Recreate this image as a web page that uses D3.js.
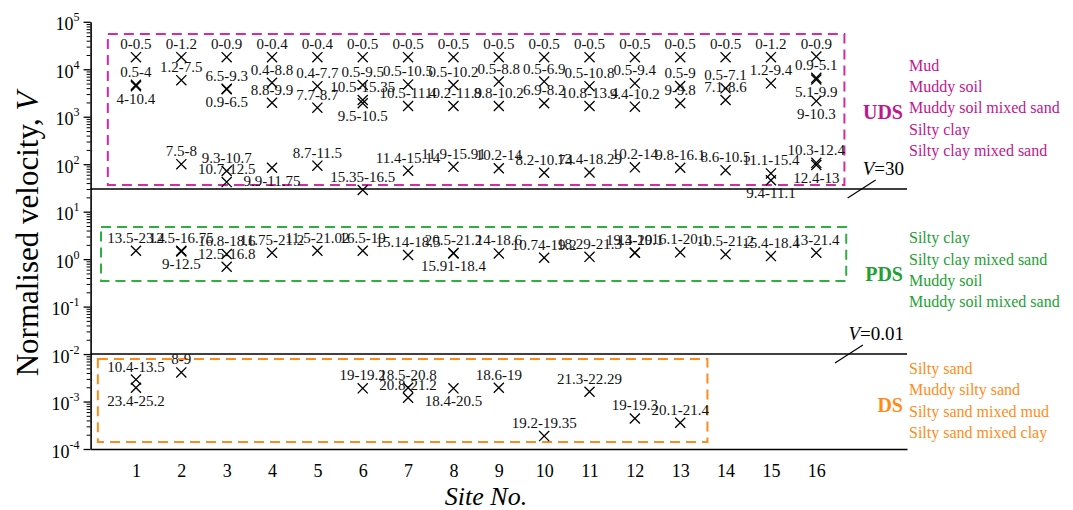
<!DOCTYPE html>
<html>
<head>
<meta charset="utf-8">
<script src="https://d3js.org/d3.v7.min.js"></script>
<style>
  body { margin: 0; background: #fff; }
  svg { font-family: "Liberation Serif", "Times New Roman", serif; }
</style>
</head>
<body>
<svg id="chart" width="1073" height="510"></svg>
<script>
const sites = d3.range(1, 17);
const yTicks = [1e-4, 1e-3, 1e-2, 1e-1, 1, 10, 100, 1e3, 1e4, 1e5];

// [site, normalised velocity V, depth range (m)]
const udsPoints = [
  [1, 1.8e4, '0-0.5'], [1, 4.7e3, '0.5-4'], [1, 4.4e3, '4-10.4'],
  [2, 1.8e4, '0-1.2'], [2, 5.9e3, '1.2-7.5'], [2, 100, '7.5-8'],
  [3, 1.8e4, '0-0.9'], [3, 3.9e3, '6.5-9.3'], [3, 3.8e3, '0.9-6.5'], [3, 72, '9.3-10.7'], [3, 42, '10.7-12.5'],
  [4, 1.8e4, '0-0.4'], [4, 5.2e3, '0.4-8.8'], [4, 1.97e3, '8.8-9.9'], [4, 84, '9.9-11.75'],
  [5, 1.8e4, '0-0.4'], [5, 4.4e3, '0.4-7.7'], [5, 1.55e3, '7.7-8.7'], [5, 93, '8.7-11.5'],
  [6, 1.8e4, '0-0.5'], [6, 4.66e3, '0.5-9.5'], [6, 2.25e3, '10.5-15.35'], [6, 1.92e3, '9.5-10.5'], [6, 28.6, '15.35-16.5'],
  [7, 1.8e4, '0-0.5'], [7, 4.8e3, '0.5-10.5'], [7, 1.68e3, '10.5-11.4'], [7, 73, '11.4-15.14'],
  [8, 1.8e4, '0-0.5'], [8, 4.66e3, '0.5-10.2'], [8, 1.68e3, '10.2-11.9'], [8, 88, '11.9-15.91'],
  [9, 1.8e4, '0-0.5'], [9, 5.5e3, '0.5-8.8'], [9, 1.68e3, '8.8-10.2'], [9, 82, '10.2-14'],
  [10, 1.8e4, '0-0.5'], [10, 5.5e3, '0.5-6.9'], [10, 1.92e3, '6.9-8.2'], [10, 66, '8.2-10.74'],
  [11, 1.8e4, '0-0.5'], [11, 4.4e3, '0.5-10.8'], [11, 1.68e3, '10.8-13.4'], [11, 67, '13.4-18.29'],
  [12, 1.8e4, '0-0.5'], [12, 5.06e3, '0.5-9.4'], [12, 1.63e3, '9.4-10.2'], [12, 86, '10.2-14'],
  [13, 1.8e4, '0-0.5'], [13, 4.44e3, '0.5-9'], [13, 1.92e3, '9-9.8'], [13, 84, '9.8-16.1'],
  [14, 1.8e4, '0-0.5'], [14, 3.97e3, '0.5-7.1'], [14, 2.25e3, '7.1-8.6'], [14, 75, '8.6-10.5'],
  [15, 1.8e4, '0-1.2'], [15, 5.06e3, '1.2-9.4'], [15, 64, '11.1-15.4'], [15, 46, '9.4-11.1'],
  [16, 1.85e4, '0-0.9'], [16, 6.6e3, '0.9-5.1'], [16, 6.1e3, '5.1-9.9'], [16, 2.14e3, '9-10.3'], [16, 107, '10.3-12.4'], [16, 96, '12.4-13']
];

const pdsPoints = [
  [1, 1.5, '13.5-23.4'],
  [2, 1.5, '12.5-16.75'], [2, 1.45, '9-12.5'],
  [3, 1.28, '16.8-18.6'], [3, 0.69, '12.5-16.8'],
  [4, 1.36, '11.75-21.2'],
  [5, 1.5, '11.5-21.02'],
  [6, 1.5, '16.5-19'],
  [7, 1.22, '15.14-18.5'],
  [8, 1.35, '20.5-21.2'], [8, 1.32, '15.91-18.4'],
  [9, 1.32, '14-18.6'],
  [10, 1.07, '10.74-19.2'],
  [11, 1.12, '18.29-21.3'],
  [12, 1.36, '14-19'], [12, 1.36, '19.3-20.1'],
  [13, 1.39, '16.1-20.1'],
  [14, 1.26, '10.5-21.2'],
  [15, 1.16, '15.4-18.4'],
  [16, 1.36, '13-21.4']
];

const dsPoints = [
  [1, 2.9e-3, '10.4-13.5'], [1, 1.95e-3, '23.4-25.2'],
  [2, 4.1e-3, '8-9'],
  [6, 1.9e-3, '19-19.2'],
  [7, 1.95e-3, '18.5-20.8'], [7, 1.2e-3, '20.8-21.2'],
  [8, 1.9e-3, '18.4-20.5'],
  [9, 1.95e-3, '18.6-19'],
  [10, 1.87e-4, '19.2-19.35'],
  [11, 1.61e-3, '21.3-22.29'],
  [12, 4.4e-4, '19-19.3'],
  [13, 3.57e-4, '20.1-21.4']
];

// labels drawn under their marker, "site|depth"
const labelsBelow = ['1|4-10.4', '1|23.4-25.2', '2|9-12.5', '3|0.9-6.5', '4|9.9-11.75',
  '6|9.5-10.5', '8|15.91-18.4', '8|18.4-20.5', '15|9.4-11.1', '16|5.1-9.9', '16|9-10.3', '16|12.4-13'];

const thresholds = [30, 0.01];

// zone boxes: [x0, x1, Vlow, Vhigh]
const udsBox = [0.38, 16.62, 36.4, 5.5e4];
const pdsBox = [0.23, 16.66, 0.345, 4.74];
const dsBox = [0.16, 13.6, 1.4e-4, 7.85e-3];

const udsSoils = ['Mud', 'Muddy soil', 'Muddy soil mixed sand', 'Silty clay', 'Silty clay mixed sand'];
const pdsSoils = ['Silty clay', 'Silty clay mixed sand', 'Muddy soil', 'Muddy soil mixed sand'];
const dsSoils = ['Silty sand', 'Muddy silty sand', 'Silty sand mixed mud', 'Silty sand mixed clay'];

const svg = d3.select('#chart');
const x = d3.scaleLinear().domain([0, 18]).range([90.6, 907]);
const y = d3.scaleLog().domain([1e-4, 1e5]).range([449, 21.8]);

// y axis, minor ticks first
const minor = [];
yTicks.slice(0, -1).forEach(t => { for (let k = 2; k < 10; k++) minor.push(t * k); });
svg.append('g')
  .attr('transform', 'translate(90.6,0)')
  .call(d3.axisLeft(y).tickValues(minor).tickSize(4).tickFormat(''))
  .call(g => g.select('.domain').remove())
  .selectAll('line').attr('stroke', '#000').attr('stroke-width', 1);

const yAxis = svg.append('g')
  .attr('transform', 'translate(90.6,0)')
  .call(d3.axisLeft(y).tickValues(yTicks).tickSizeInner(7).tickSizeOuter(0).tickPadding(4));
yAxis.select('.domain').attr('stroke-width', 1.6);
yAxis.selectAll('line').attr('stroke-width', 1.3);
yAxis.selectAll('.tick text')
  .attr('font-family', '"Liberation Serif", serif')
  .attr('font-size', 18)
  .attr('fill', '#000')
  .attr('dy', '0.45em')
  .text(null)
  .each(function(d) {
    const t = d3.select(this);
    t.append('tspan').text('10');
    t.append('tspan').attr('font-size', 12).attr('dy', '-0.75em').text(Math.round(Math.log10(d)));
  });

// x axis
const xAxis = svg.append('g')
  .attr('transform', 'translate(0,449)')
  .call(d3.axisBottom(x).tickValues(sites).tickSize(0).tickPadding(15).tickFormat(d3.format('d')));
xAxis.select('.domain').attr('stroke-width', 1.6);
xAxis.selectAll('text')
  .attr('font-family', '"Liberation Serif", serif')
  .attr('font-size', 18)
  .attr('fill', '#000');

svg.append('text')
  .attr('transform', 'translate(38,234) rotate(-90)')
  .attr('text-anchor', 'middle')
  .attr('font-size', 31)
  .html('Normalised velocity, <tspan font-style="italic">V</tspan>');

svg.append('text')
  .attr('x', 486).attr('y', 505)
  .attr('text-anchor', 'middle')
  .attr('font-size', 26)
  .attr('font-style', 'italic')
  .text('Site No.');

// threshold lines
svg.selectAll('.thr')
  .data(thresholds)
  .join('line')
  .attr('x1', x(0)).attr('x2', x(18))
  .attr('y1', d => y(d)).attr('y2', d => y(d))
  .attr('stroke', '#000').attr('stroke-width', 1.5);

const thrLabel = [[30, 17.0, 'V=30'], [0.01, 16.72, 'V=0.01']];
thrLabel.forEach(([v, sx, txt]) => {
  const cx = x(sx), cy = y(v);
  svg.append('line')
    .attr('x1', cx - 14).attr('y1', cy + 9)
    .attr('x2', cx + 14).attr('y2', cy - 9)
    .attr('stroke', '#000').attr('stroke-width', 1.2);
  svg.append('text')
    .attr('x', 904).attr('y', cy - 14)
    .attr('text-anchor', 'end')
    .attr('font-size', 19)
    .html('<tspan font-style="italic">V</tspan>' + txt.slice(1));
});

// zone boxes
const zoneColor = { uds: '#d42aa6', pds: '#2db040', ds: '#ff8c1a' };
const zoneText = { uds: '#c0168f', pds: '#23a034', ds: '#ff8c1a' };
[['uds', udsBox], ['pds', pdsBox], ['ds', dsBox]].forEach(([k, b]) => {
  svg.append('rect')
    .attr('x', x(b[0])).attr('y', y(b[3]))
    .attr('width', x(b[1]) - x(b[0]))
    .attr('height', y(b[2]) - y(b[3]))
    .attr('fill', 'none')
    .attr('stroke', zoneColor[k])
    .attr('stroke-width', 2)
    .attr('stroke-dasharray', '10,6');
});

// markers and depth labels
const allPts = udsPoints.concat(pdsPoints, dsPoints);
const sym = d3.symbol().type(d3.symbolX).size(68);
svg.append('g').selectAll('path')
  .data(allPts)
  .join('path')
  .attr('transform', d => `translate(${x(d[0])},${y(d[1])})`)
  .attr('d', sym)
  .attr('stroke', '#000')
  .attr('stroke-width', 1.3)
  .attr('fill', 'none');

svg.append('g').selectAll('text')
  .data(allPts)
  .join('text')
  .attr('x', d => x(d[0]))
  .attr('y', d => y(d[1]) + (labelsBelow.includes(d[0] + '|' + d[2]) ? 18 : -8))
  .attr('text-anchor', 'middle')
  .attr('font-size', 15)
  .attr('fill', '#111')
  .text(d => d[2]);

// zone legends
const legends = [
  ['uds', 'UDS', udsSoils, 70.7],
  ['pds', 'PDS', pdsSoils, 243.3],
  ['ds', 'DS', dsSoils, 374]
];
legends.forEach(([k, name, soils, top]) => {
  const g = svg.append('g').attr('fill', zoneText[k]);
  g.selectAll('text.soil')
    .data(soils)
    .join('text')
    .attr('class', 'soil')
    .attr('x', 909)
    .attr('y', (d, i) => top + i * 21.3)
    .attr('font-size', 16)
    .text(d => d);
  g.append('text')
    .attr('x', 903)
    .attr('y', top + (soils.length - 1) * 21.3 / 2 + 6)
    .attr('text-anchor', 'end')
    .attr('font-size', 20)
    .attr('font-weight', 'bold')
    .text(name);
});
</script>
</body>
</html>
